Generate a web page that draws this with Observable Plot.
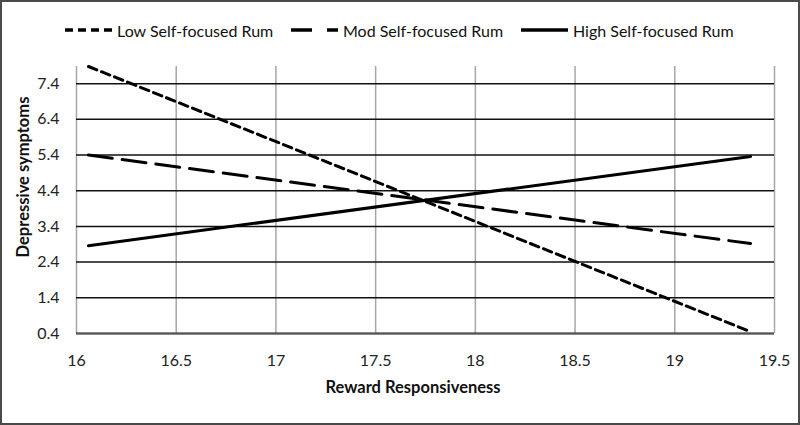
<!DOCTYPE html>
<html>
<head>
<meta charset="utf-8">
<script src="https://cdn.jsdelivr.net/npm/d3@7"></script>
<script src="https://cdn.jsdelivr.net/npm/@observablehq/plot@0.6"></script>
<style>
  html, body { margin: 0; padding: 0; background: #fff; }
  #wrap { position: relative; width: 800px; height: 425px; overflow: hidden; font-family: Lato, "Open Sans", sans-serif; }
  #frame { position: absolute; left: 0; top: 0; width: 800px; height: 425px; box-sizing: border-box; border: 2px solid #4a4a4a; pointer-events: none; }
  #legend { position: absolute; top: 19px; left: 0; width: 800px; height: 22px; }
  .item { position: absolute; top: 0; height: 22px; display: flex; align-items: center; font-size: 16px; color: #111; white-space: nowrap; }
  .item svg { margin-right: 5px; }
  .ttl { position: absolute; font-weight: bold; font-size: 16.5px; color: #111; white-space: nowrap; }
  #ylab { left: 23px; top: 177px; transform: translate(-50%, -50%) rotate(-90deg); }
  #xlab { left: 413px; top: 387px; transform: translate(-50%, -50%); }
  #chart svg { font-family: Lato, "Open Sans", sans-serif; }
</style>
</head>
<body>
<div id="wrap">
  <div id="chart"></div>
  <div id="legend"></div>
  <div class="ttl" id="ylab">Depressive symptoms</div>
  <div class="ttl" id="xlab">Reward Responsiveness</div>
  <div id="frame"></div>
</div>
<script>
// Data
const rewardX = [16.06, 19.38];
const lowRum = [7.88, 0.45];
const modRum = [5.40, 2.92];
const highRum = [2.86, 5.36];
const seriesNames = ["Low Self-focused Rum", "Mod Self-focused Rum", "High Self-focused Rum"];
const yTicks = [0.4, 1.4, 2.4, 3.4, 4.4, 5.4, 6.4, 7.4];
const xTicks = [16, 16.5, 17, 17.5, 18, 18.5, 19, 19.5];

const seriesVals = [lowRum, modRum, highRum];
const dashes = ["9,5", "24,10", null];
const legendDashes = ["8,5", "21,15", null];
const legendLeft = [65, 291, 521];

const rows = [];
seriesNames.forEach((name, i) => {
  rewardX.forEach((x, j) => rows.push({series: name, x, y: seriesVals[i][j]}));
});

const marks = [
  Plot.ruleX(xTicks, {y1: 0.4, y2: 7.88, stroke: "#a6a6a6", strokeWidth: 1.5}),
  Plot.ruleY(yTicks, {x1: 16, x2: 19.5, stroke: "#111", strokeWidth: 1.5}),
  Plot.ruleY([0.4], {x1: 16, x2: 19.5, stroke: "#555", strokeWidth: 2}),
  Plot.axisY(yTicks, {tickSize: 0, tickPadding: 17, fontSize: 16, fill: "#222", tickFormat: d => d.toFixed(1), label: null}),
  Plot.axisX(xTicks, {tickSize: 0, tickPadding: 21, fontSize: 16, fill: "#222", tickFormat: d => String(d), label: null})
];
seriesNames.forEach((name, i) => {
  marks.push(Plot.line(rows.filter(r => r.series === name), {
    x: "x", y: "y", stroke: "#000", strokeWidth: 3,
    strokeDasharray: dashes[i] || undefined
  }));
});

const chart = Plot.plot({
  width: 800,
  height: 425,
  marginTop: 66,
  marginBottom: 92,
  marginLeft: 76,
  marginRight: 26,
  x: {domain: [16, 19.5]},
  y: {domain: [0.4, 7.88]},
  marks
});
document.getElementById("chart").appendChild(chart);

// Legend
const leg = document.getElementById("legend");
seriesNames.forEach((name, i) => {
  const item = document.createElement("div");
  item.className = "item";
  item.style.left = legendLeft[i] + "px";
  const sw = 47;
  item.innerHTML = `<svg width="${sw}" height="20"><line x1="0" x2="${sw}" y1="10" y2="10" stroke="#000" stroke-width="3.5" ${legendDashes[i] ? `stroke-dasharray="${legendDashes[i]}"` : ""}/></svg><span>${name}</span>`;
  leg.appendChild(item);
});
</script>
</body>
</html>
